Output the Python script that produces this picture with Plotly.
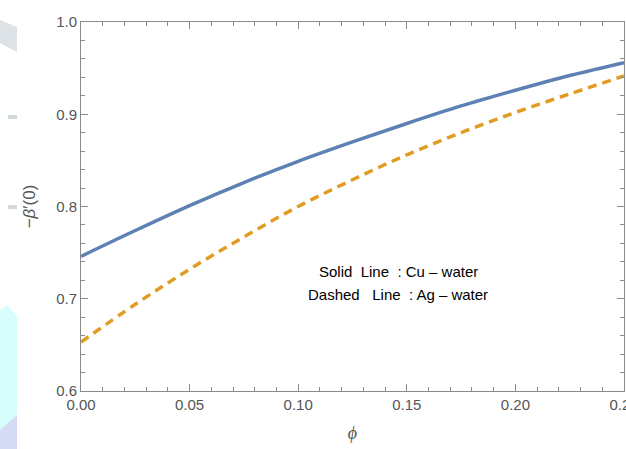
import plotly.graph_objects as go

# ---- data ----
phi = [0.0, 0.025, 0.05, 0.075, 0.10, 0.125, 0.15, 0.175, 0.20, 0.225, 0.25]
cu_water = [0.746, 0.774, 0.801, 0.826, 0.849, 0.870, 0.890, 0.909, 0.926, 0.942, 0.956]
ag_water = [0.653, 0.694, 0.732, 0.767, 0.800, 0.829, 0.856, 0.880, 0.902, 0.922, 0.9415]
legend_lines = ["Solid\u00a0\u00a0Line\u00a0\u00a0: Cu \u2013 water",
                "Dashed\u00a0\u00a0\u00a0Line\u00a0\u00a0: Ag \u2013 water"]

W, H = 626, 449
L, R, T, B = 81, 2, 22, 58
PW, PH = W - L - R, H - T - B


def px(x):
    return (x - L) / PW


def py(y):
    return (H - B - y) / PH


BLUE = "#5E81B5"
ORANGE = "#E19C24"
FRAME = "#8a8a8a"
LABEL = "#555555"
TICKFONT = dict(family="Liberation Sans Narrow, Liberation Sans, Arial", size=15, color=LABEL)

fig = go.Figure()
fig.add_trace(go.Scatter(x=phi, y=cu_water, mode="lines", line_shape="spline",
                         line=dict(color=BLUE, width=3.5), showlegend=False))
fig.add_trace(go.Scatter(x=phi, y=ag_water, mode="lines", line_shape="spline",
                         line=dict(color=ORANGE, width=3.5, dash="9px,6px"), showlegend=False))

axis_common = dict(showline=True, linecolor=FRAME, linewidth=1, mirror="ticks",
                   ticks="inside", tickcolor=FRAME, ticklen=7, tickwidth=1,
                   showgrid=False, zeroline=False, tickfont=TICKFONT)

fig.update_xaxes(range=[0, 0.25], tick0=0, dtick=0.05, tickformat=".2f",
                 ticklabeloverflow="allow",
                 minor=dict(ticks="inside", ticklen=4, dtick=0.01, tickcolor=FRAME, showgrid=False),
                 title=dict(text="<i>\u03d5</i>", font=dict(family="Liberation Serif, DejaVu Serif", size=18, color=LABEL), standoff=14),
                 **axis_common)
fig.update_yaxes(range=[0.6, 1.0], tick0=0.6, dtick=0.1, tickformat=".1f",
                 minor=dict(ticks="inside", ticklen=4, dtick=0.02, tickcolor=FRAME, showgrid=False),
                 title=dict(text="\u2212<i>\u03b2</i>\u2032(0)", font=dict(family="Liberation Sans, Arial", size=17, color=LABEL), standoff=16),
                 **axis_common)

# legend-like text annotations
for i, txt in enumerate(legend_lines):
    fig.add_annotation(x=px(398), y=py(271 + 24 * i), xref="paper", yref="paper",
                       text=txt, showarrow=False, xanchor="center", yanchor="middle",
                       font=dict(family="Liberation Sans Narrow, Liberation Sans, Arial", size=15, color="black"))

# background decorations at the left edge of the picture
shapes = []


def poly(pts, color):
    path = "M " + " L ".join(f"{px(a):.5f},{py(b):.5f}" for a, b in pts) + " Z"
    shapes.append(dict(type="path", xref="paper", yref="paper", path=path,
                       fillcolor=color, line=dict(width=0), layer="below"))


poly([(0, 20), (17, 27), (17, 52), (0, 43)], "#dce2e6")
poly([(8, 115), (17, 115), (17, 119), (8, 119)], "#d3dadd")
poly([(8, 205), (17, 205), (17, 209), (8, 209)], "#d3dadd")
poly([(0, 310), (7, 305), (17, 317), (17, 449), (0, 449)], "#d8fdfd")
poly([(0, 430), (17, 415), (17, 449), (0, 449)], "#d5dbf5")

fig.update_layout(width=W, height=H, margin=dict(l=L, r=R, t=T, b=B, autoexpand=False),
                  paper_bgcolor="white", plot_bgcolor="rgba(0,0,0,0)", shapes=shapes)

fig.write_html("out.html", config={"displayModeBar": False},
               post_script="document.body.style.margin='0';document.body.style.overflow='hidden';")
